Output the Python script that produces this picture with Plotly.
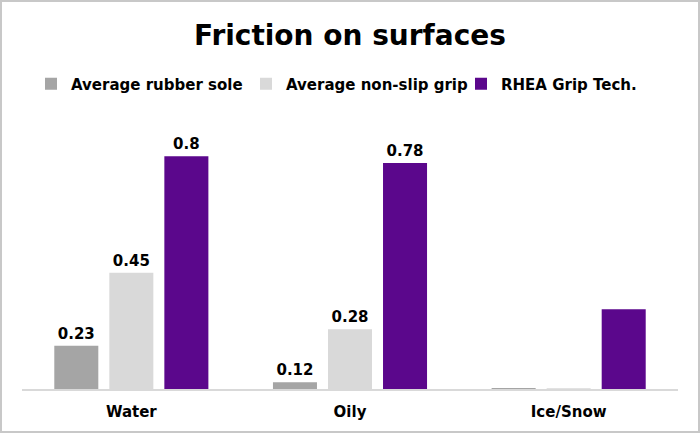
import plotly.graph_objects as go

categories = ["Water", "Oily", "Ice/Snow"]
series_names = ["Average rubber sole", "Average non-slip grip", "RHEA Grip Tech."]
rubber = [0.23, 0.12, 0.103]
nonslip = [0.45, 0.28, 0.102]
rhea = [0.80, 0.78, 0.34]
rubber_labels = ["0.23", "0.12", ""]
nonslip_labels = ["0.45", "0.28", ""]
rhea_labels = ["0.8", "0.78", ""]

colors = ["#A5A5A5", "#D9D9D9", "#5B078C"]
font_family = "DejaVu Sans, Arial Black, sans-serif"

fig = go.Figure()
for name, vals, labels, col in zip(series_names, [rubber, nonslip, rhea],
                                   [rubber_labels, nonslip_labels, rhea_labels], colors):
    fig.add_trace(go.Bar(
        x=categories, y=vals, name=name, marker=dict(color=col, line=dict(width=0)),
        text=labels, textposition="outside", cliponaxis=False,
        textfont=dict(family=font_family, size=15, color="black", weight="bold"),
        hoverinfo="skip",
    ))

W, H = 700, 433
L, R, T, B = 22, 22, 123, 44
pw = W - L - R
ph = H - T - B

fig.update_layout(
    width=W, height=H,
    margin=dict(l=L, r=R, t=T, b=B),
    paper_bgcolor="white", plot_bgcolor="white",
    barmode="group", bargap=0.245, bargroupgap=0.2,
    title=dict(text="<b>Friction on surfaces</b>", x=0.5, xanchor="center",
               y=1 - 35 / H, yanchor="middle",
               font=dict(family=font_family, size=28, color="black")),
    legend=dict(orientation="h", x=(31 - L) / pw, xanchor="left", y=1 + (T - 84) / ph,
                yanchor="middle", font=dict(family=font_family, size=15, color="black", weight="bold"),
                itemwidth=30, entrywidth=170, traceorder="normal", bgcolor="rgba(0,0,0,0)"),
    showlegend=True,
    xaxis=dict(showline=True, linecolor="#D9D9D9", linewidth=1.5, ticks="",
               tickfont=dict(family=font_family, size=15, color="black", weight="bold"),
               ticklabelstandoff=8, showgrid=False, fixedrange=True),
    yaxis=dict(range=[0.1, 0.9], visible=False, showgrid=False, zeroline=False, fixedrange=True),
    shapes=[dict(type="rect", xref="paper", yref="paper",
                 x0=-(L - 1) / pw, x1=1 + (R - 1) / pw,
                 y0=-(B - 1) / ph, y1=1 + (T - 1) / ph,
                 line=dict(color="#C8C8C8", width=2), fillcolor="rgba(0,0,0,0)", layer="above")],
)

fig.write_html("out.html", config={"displayModeBar": False},
               post_script="document.body.style.margin='0';")
